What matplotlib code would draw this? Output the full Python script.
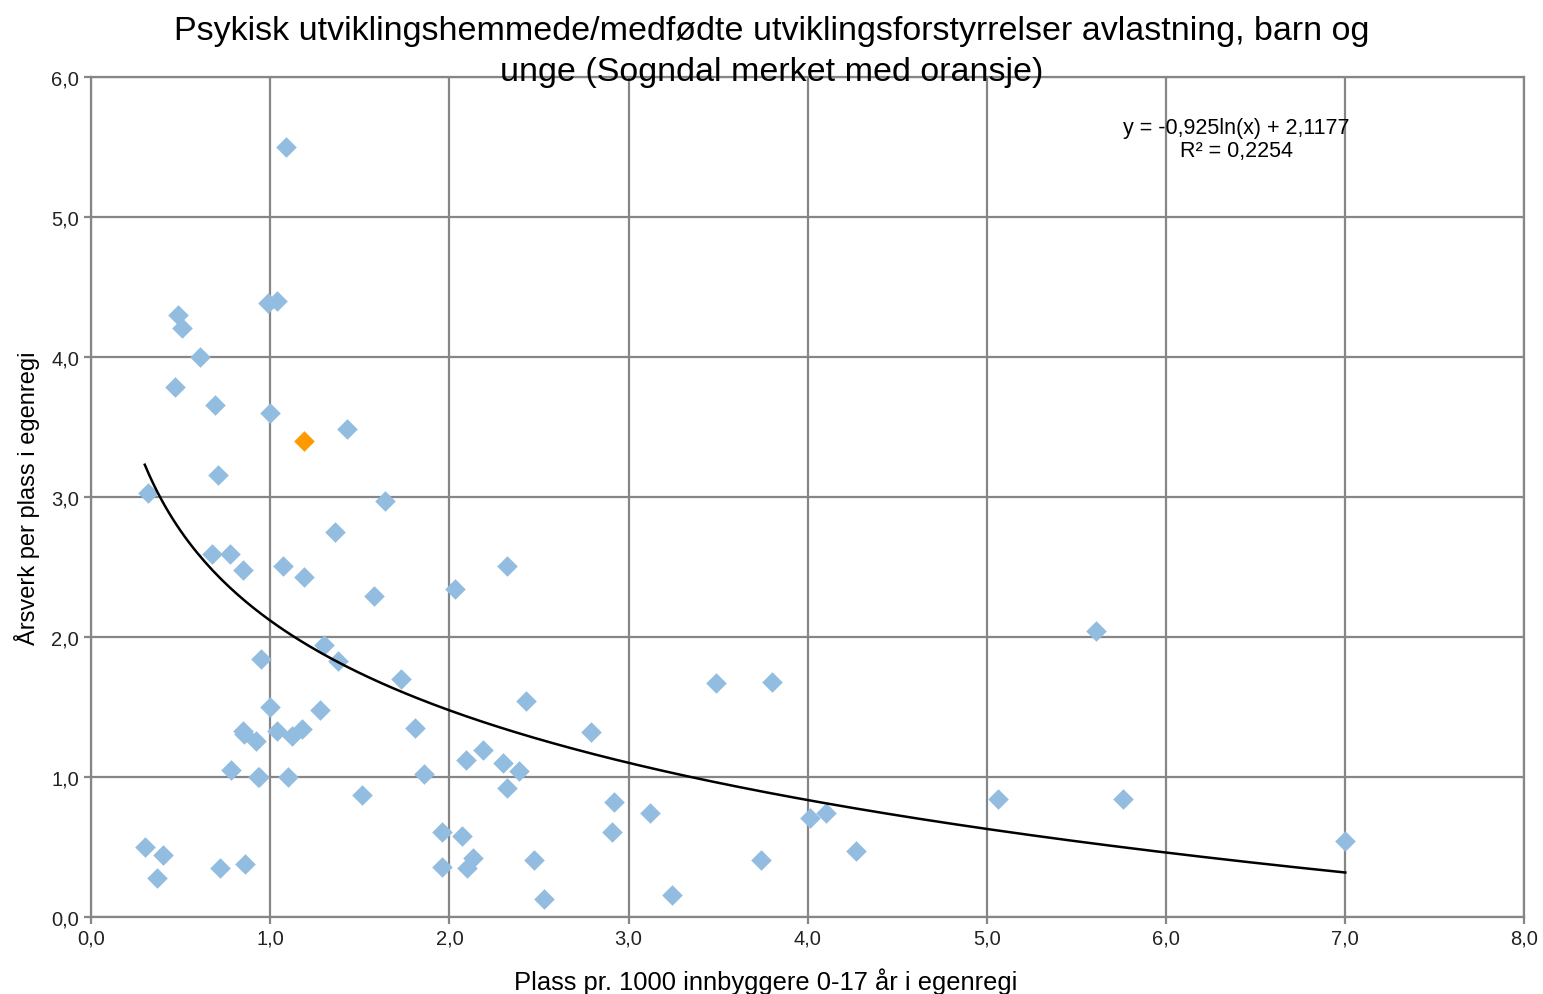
import numpy as np
import matplotlib
matplotlib.use('Agg')
import matplotlib.pyplot as plt
from matplotlib.ticker import FuncFormatter

plt.rcParams['font.family'] = ['Liberation Sans', 'DejaVu Sans']

# kommuner (blå)
x_vals = [1.09, 0.99, 1.04, 0.485, 0.51, 0.61, 0.47, 0.69, 1.00, 1.43,
          0.71, 0.32, 1.64, 1.36, 0.675, 0.775, 0.85, 1.07, 1.19, 2.32,
          2.03, 1.58, 5.61, 1.30, 1.38, 0.95, 1.73, 3.49, 3.80, 2.43,
          1.00, 1.28, 1.81, 2.79, 0.85, 0.855, 1.04, 1.12, 1.18, 0.92,
          2.19, 2.30, 2.09, 2.39, 0.78, 0.93, 0.94, 1.10, 1.86, 2.32,
          1.51, 2.92, 5.06, 5.76, 3.12, 4.10, 4.01, 7.00, 4.27, 0.30,
          0.40, 0.37, 0.72, 0.86, 1.96, 2.07, 2.91, 1.96, 2.13, 2.10,
          2.47, 3.74, 2.53, 3.24]
y_vals = [5.50, 4.39, 4.40, 4.30, 4.21, 4.00, 3.79, 3.66, 3.60, 3.49,
          3.16, 3.03, 2.97, 2.75, 2.59, 2.59, 2.48, 2.51, 2.43, 2.51,
          2.34, 2.29, 2.04, 1.94, 1.83, 1.84, 1.70, 1.67, 1.68, 1.54,
          1.50, 1.48, 1.35, 1.32, 1.33, 1.31, 1.33, 1.29, 1.34, 1.26,
          1.19, 1.10, 1.12, 1.04, 1.05, 1.00, 1.00, 1.00, 1.02, 0.92,
          0.87, 0.82, 0.84, 0.84, 0.74, 0.74, 0.71, 0.54, 0.47, 0.50,
          0.44, 0.28, 0.35, 0.38, 0.61, 0.58, 0.61, 0.36, 0.42, 0.35,
          0.41, 0.41, 0.13, 0.16]

# Sogndal (oransje)
sogndal_x = [1.19]
sogndal_y = [3.40]

# trendlinje y = a*ln(x) + b
trend_a = -0.925
trend_b = 2.1177
trend_r2 = 0.2254

fig = plt.figure(figsize=(15.43, 9.95), dpi=100)
ax = fig.add_axes([0.059, 0.0774, 0.929, 0.844])

grid_col = '#868686'
ax.set_xlim(0, 8)
ax.set_ylim(0, 6)
ax.set_xticks(np.arange(0, 9, 1))
ax.set_yticks(np.arange(0, 7, 1))
ax.grid(True, color=grid_col, linewidth=1.6)
ax.set_axisbelow(True)
for s in ax.spines.values():
    s.set_color(grid_col)
    s.set_linewidth(1.6)
ax.tick_params(colors=grid_col, length=5, width=1.6, labelcolor='#222222',
               labelsize=14.5)
fmt = FuncFormatter(lambda v, p: f'{v:.1f}'.replace('.', ','))
ax.xaxis.set_major_formatter(fmt)
ax.yaxis.set_major_formatter(fmt)

ax.scatter(x_vals, y_vals, marker='D', s=110, color='#93BDE0', linewidths=0,
           zorder=3)
ax.scatter(sogndal_x, sogndal_y, marker='D', s=110, color='#FF9900',
           linewidths=0, zorder=4)

tx = np.linspace(min(x_vals), max(x_vals), 300)
ax.plot(tx, trend_a * np.log(tx) + trend_b, color='black', linewidth=1.8,
        zorder=5)

ax.text(6.39, 5.56,
        f'y = {trend_a:.3f}ln(x) + {trend_b:.4f}'.replace('.', ',') + '\n'
        + f'R² = {trend_r2:.4f}'.replace('.', ','),
        ha='center', va='center', fontsize=15.5, linespacing=1.1, zorder=6)

fig.text(0.5, 0.984,
         'Psykisk utviklingshemmede/medfødte utviklingsforstyrrelser avlastning, barn og\n'
         'unge (Sogndal merket med oransje)',
         ha='center', va='top', fontsize=24.5, linespacing=1.43)

fig.text(0.4964, 0.013, 'Plass pr. 1000 innbyggere 0-17 år i egenregi',
         ha='center', va='center', fontsize=18.4)
ax.set_ylabel('Årsverk per plass i egenregi', fontsize=17, labelpad=8)

fig.savefig('out.png', dpi=100)
